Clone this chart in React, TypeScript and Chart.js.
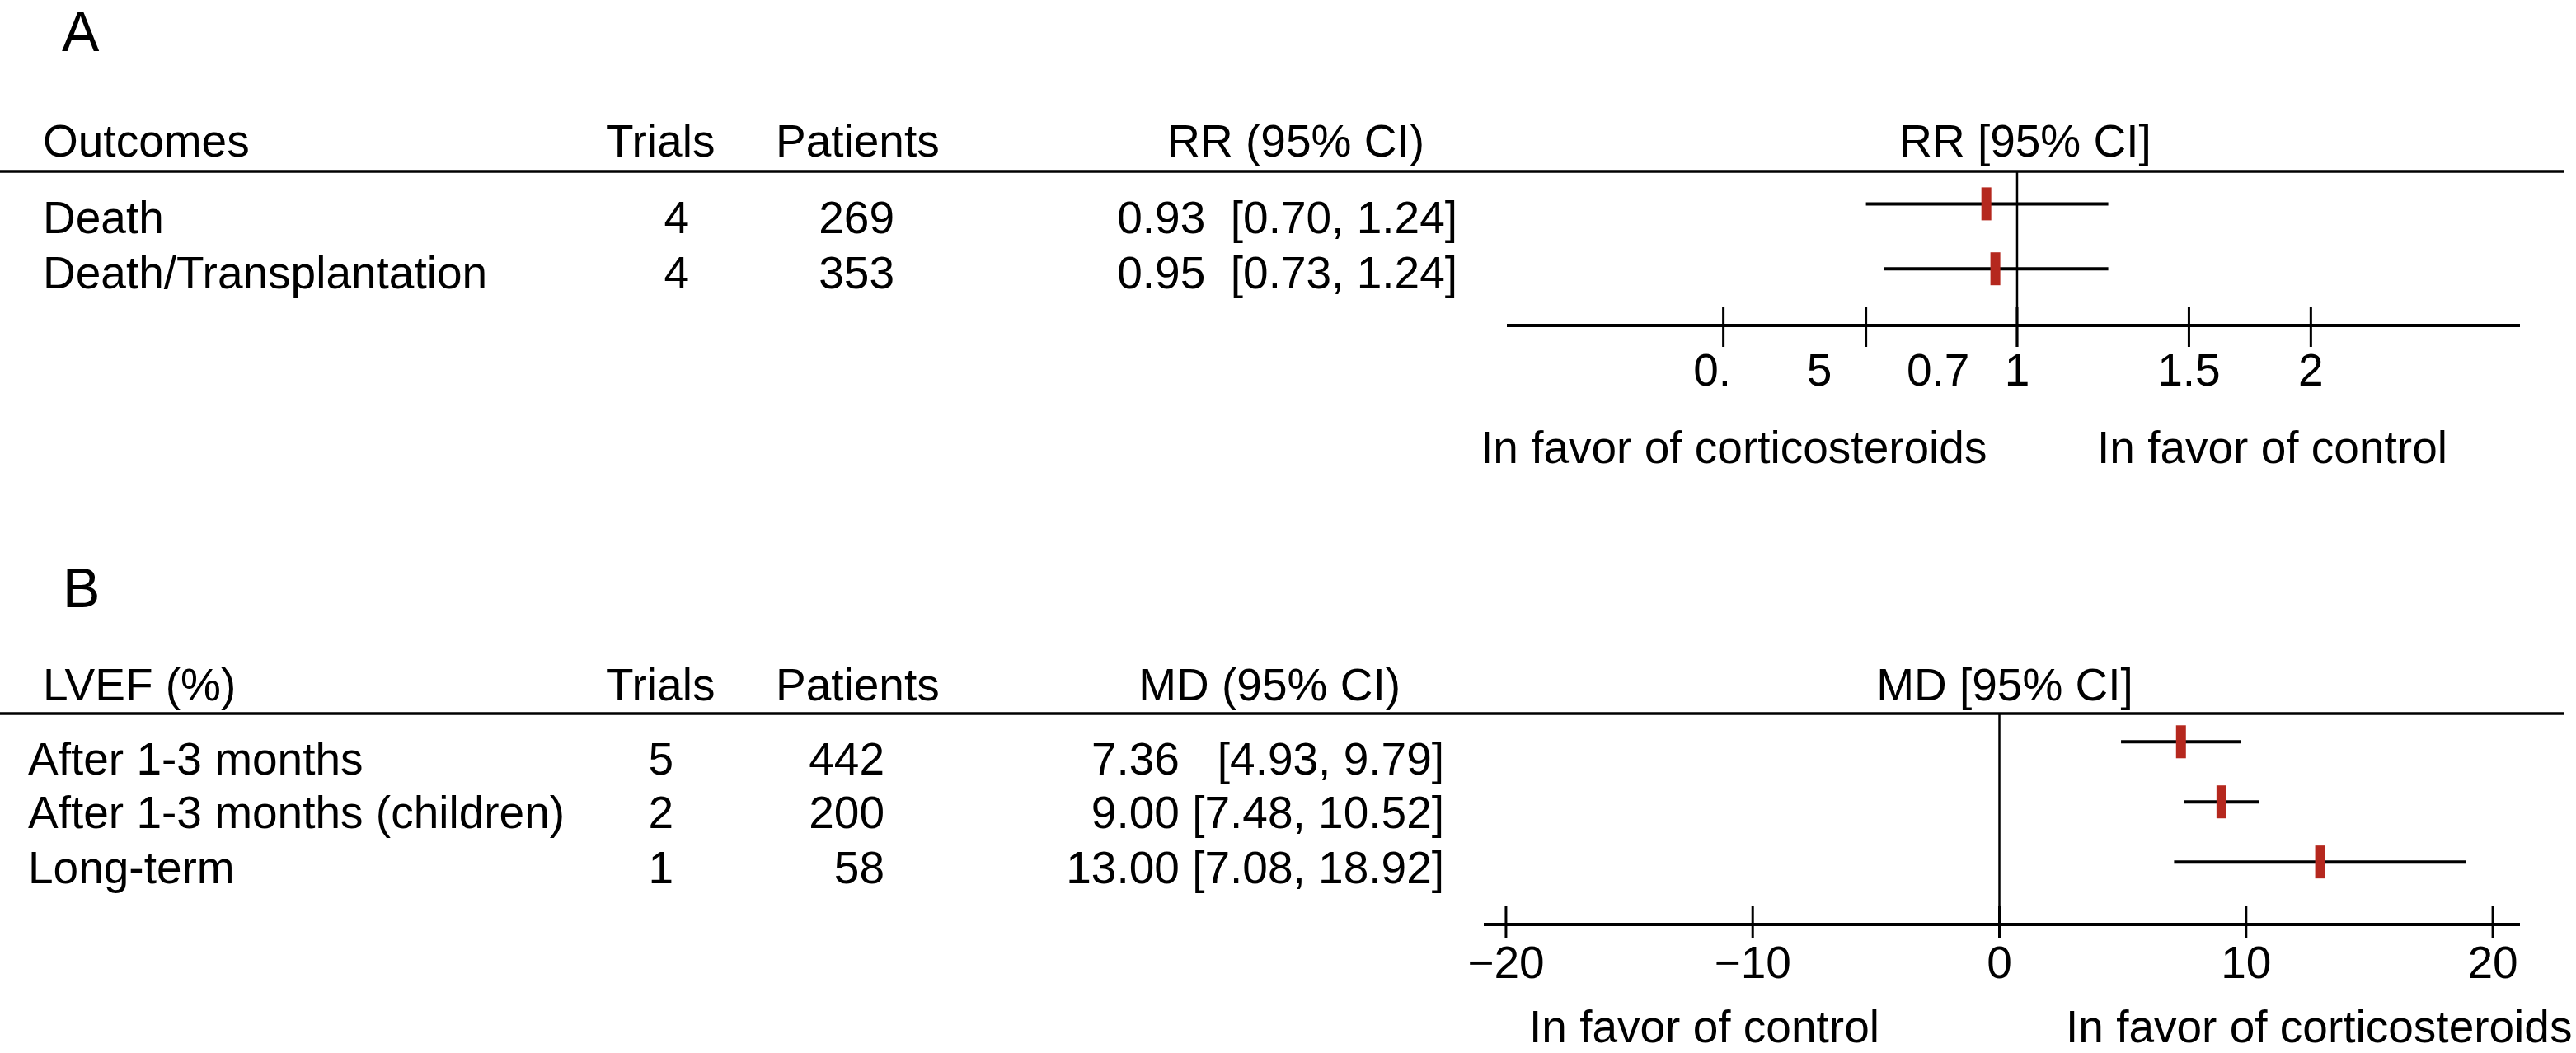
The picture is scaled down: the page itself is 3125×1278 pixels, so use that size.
import React, { useEffect, useRef } from "react";
import { Chart, registerables } from "chart.js";

Chart.register(...registerables);

const FONT = '"Liberation Sans", Arial, Helvetica, sans-serif';

// ---------- Panel A data ----------
const outcomesA = ["Death", "Death/Transplantation"];
const trialsA = [4, 4];
const patientsA = [269, 353];
const rrA = [0.93, 0.95];
const rrLowA = [0.7, 0.73];
const rrHighA = [1.24, 1.24];
const rrTextA = ["0.93  [0.70, 1.24]", "0.95  [0.73, 1.24]"];
const headersA = ["Outcomes", "Trials", "Patients", "RR (95% CI)"];
const forestHeaderA = "RR [95% CI]";
const tickValuesA = [0.5, 0.7, 1, 1.5, 2];
const tickLabelPosA = [0.487, 0.627, 0.83, 1, 1.5, 2];
const tickLabelsA = ["0.", "5", "0.7", "1", "1.5", "2"];
const favorA = ["In favor of corticosteroids", "In favor of control"];
const refValueA = 1;

// ---------- Panel B data ----------
const outcomesB = ["After 1-3 months", "After 1-3 months (children)", "Long-term"];
const trialsB = [5, 2, 1];
const patientsB = [442, 200, 58];
const mdB = [7.36, 9.0, 13.0];
const mdLowB = [4.93, 7.48, 7.08];
const mdHighB = [9.79, 10.52, 18.92];
const mdTextB = ["7.36   [4.93, 9.79]", "9.00 [7.48, 10.52]", "13.00 [7.08, 18.92]"];
const headersB = ["LVEF (%)", "Trials", "Patients", "MD (95% CI)"];
const forestHeaderB = "MD [95% CI]";
const tickValuesB = [-20, -10, 0, 10, 20];
const tickLabelPosB = [-20, -10, 0, 10, 20];
const tickLabelsB = ["\u221220", "\u221210", "0", "10", "20"];
const favorB = ["In favor of control", "In favor of corticosteroids"];
const refValueB = 0;

const W = 3125;
const H = 1278;
const RED = "#b5281e";

type Layout = {
  letter: string;
  letterX: number;
  letterBase: number;
  headerBase: number;
  headerX: number[];
  headerAlign: CanvasTextAlign[];
  headerLineY: number;
  headerLineEnd: number;
  forestHeaderX: number;
  rowBase: number[];
  labelX: number;
  trialsRight: number;
  patientsRight: number;
  valueRight: number;
  tickTop: number;
  tickBottom: number;
  refTop: number;
  refBottom: number;
  tickLabelBase: number;
  favorX: number[];
  favorBase: number;
  area: { left: number; right: number; top: number; bottom: number };
  xType: "logarithmic" | "linear";
  xMin: number;
  xMax: number;
  yMin: number;
  yMax: number;
};

const layoutA: Layout = {
  letter: "A",
  letterX: 75,
  letterBase: 62,
  headerBase: 190,
  headerX: [52, 735, 941, 1728],
  headerAlign: ["left", "left", "left", "right"],
  headerLineY: 208,
  headerLineEnd: 3111,
  forestHeaderX: 2457,
  rowBase: [283, 350],
  labelX: 52,
  trialsRight: 836,
  patientsRight: 1085,
  valueRight: 1768,
  tickTop: 372,
  tickBottom: 421,
  refTop: 208,
  refBottom: 421,
  tickLabelBase: 468,
  favorX: [1796, 2544],
  favorBase: 562,
  area: { left: 1828, right: 3057, top: 208, bottom: 395 },
  xType: "logarithmic",
  xMin: 0.3082,
  xMax: 3.2757,
  yMin: 0.5,
  yMax: 2.873,
};

const layoutB: Layout = {
  letter: "B",
  letterX: 76,
  letterBase: 737,
  headerBase: 850,
  headerX: [52, 735, 941, 1699],
  headerAlign: ["left", "left", "left", "right"],
  headerLineY: 866,
  headerLineEnd: 3111,
  forestHeaderX: 2432,
  rowBase: [940, 1005, 1072],
  labelX: 34,
  trialsRight: 817,
  patientsRight: 1073,
  valueRight: 1752,
  tickTop: 1099,
  tickBottom: 1138,
  refTop: 866,
  refBottom: 1138,
  tickLabelBase: 1187,
  favorX: [1855, 2506],
  favorBase: 1265,
  area: { left: 1800, right: 3057, top: 866, bottom: 1122 },
  xType: "linear",
  xMin: -20.9,
  xMax: 21.1,
  yMin: 0.53,
  yMax: 4.04,
};

type PanelData = {
  labels: string[];
  trials: number[];
  patients: number[];
  est: number[];
  lo: number[];
  hi: number[];
  estText: string[];
  headers: string[];
  forestHeader: string;
  tickValues: number[];
  tickLabelPos: number[];
  tickLabels: string[];
  favor: string[];
  ref: number;
};

const dataA: PanelData = {
  labels: outcomesA,
  trials: trialsA,
  patients: patientsA,
  est: rrA,
  lo: rrLowA,
  hi: rrHighA,
  estText: rrTextA,
  headers: headersA,
  forestHeader: forestHeaderA,
  tickValues: tickValuesA,
  tickLabelPos: tickLabelPosA,
  tickLabels: tickLabelsA,
  favor: favorA,
  ref: refValueA,
};

const dataB: PanelData = {
  labels: outcomesB,
  trials: trialsB,
  patients: patientsB,
  est: mdB,
  lo: mdLowB,
  hi: mdHighB,
  estText: mdTextB,
  headers: headersB,
  forestHeader: forestHeaderB,
  tickValues: tickValuesB,
  tickLabelPos: tickLabelPosB,
  tickLabels: tickLabelsB,
  favor: favorB,
  ref: refValueB,
};

function text(
  ctx: CanvasRenderingContext2D,
  s: string,
  x: number,
  y: number,
  align: CanvasTextAlign,
  size = 55
) {
  ctx.font = `${size}px ${FONT}`;
  ctx.textAlign = align;
  ctx.textBaseline = "alphabetic";
  ctx.fillStyle = "#000";
  ctx.fillText(s, x, y);
}

function line(ctx: CanvasRenderingContext2D, x1: number, y1: number, x2: number, y2: number, w: number) {
  ctx.beginPath();
  ctx.lineWidth = w;
  ctx.strokeStyle = "#000";
  ctx.lineCap = "butt";
  ctx.moveTo(x1, y1);
  ctx.lineTo(x2, y2);
  ctx.stroke();
}

function makePlugin(d: PanelData, L: Layout, paintBg: boolean) {
  return {
    id: "forestDecor" + L.letter,
    beforeDraw(chart: any) {
      if (!paintBg) return;
      const ctx = chart.ctx as CanvasRenderingContext2D;
      ctx.save();
      ctx.fillStyle = "#fff";
      ctx.fillRect(0, 0, chart.width, chart.height);
      ctx.restore();
    },
    beforeDatasetsDraw(chart: any) {
      const ctx = chart.ctx as CanvasRenderingContext2D;
      const xs = chart.scales.x;
      ctx.save();
      const rx = xs.getPixelForValue(d.ref);
      line(ctx, rx, L.refTop, rx, L.refBottom, 2.5);
      ctx.restore();
    },
    afterDraw(chart: any) {
      const ctx = chart.ctx as CanvasRenderingContext2D;
      const xs = chart.scales.x;
      const ca = chart.chartArea;
      ctx.save();
      // panel letter
      text(ctx, L.letter, L.letterX, L.letterBase, "left", 68);
      // headers
      d.headers.forEach((h, i) => text(ctx, h, L.headerX[i], L.headerBase, L.headerAlign[i]));
      text(ctx, d.forestHeader, L.forestHeaderX, L.headerBase, "center");
      // header rule
      line(ctx, 0, L.headerLineY, L.headerLineEnd, L.headerLineY, 3.5);
      // rows
      d.labels.forEach((lab, i) => {
        const yb = L.rowBase[i];
        text(ctx, lab, L.labelX, yb, "left");
        text(ctx, String(d.trials[i]), L.trialsRight, yb, "right");
        text(ctx, String(d.patients[i]), L.patientsRight, yb, "right");
        text(ctx, d.estText[i], L.valueRight, yb, "right");
      });
      // axis line
      line(ctx, ca.left, ca.bottom, ca.right, ca.bottom, 4);
      // tick marks crossing the axis
      d.tickValues.forEach((v) => {
        const px = xs.getPixelForValue(v);
        line(ctx, px, L.tickTop, px, L.tickBottom, 3);
      });
      // tick labels
      d.tickLabels.forEach((t, i) => {
        const px = xs.getPixelForValue(d.tickLabelPos[i]);
        text(ctx, t, px, L.tickLabelBase, "center");
      });
      // favor labels
      d.favor.forEach((f, i) => text(ctx, f, L.favorX[i], L.favorBase, "left"));
      ctx.restore();
    },
  };
}

function buildChart(canvas: HTMLCanvasElement, d: PanelData, L: Layout, paintBg: boolean) {
  const ciSets = d.labels.map((_, i) => ({
    label: "CI " + d.labels[i],
    data: [
      { x: d.lo[i], y: i + 1 },
      { x: d.hi[i], y: i + 1 },
    ],
    showLine: true,
    borderColor: "#000",
    borderWidth: 4,
    pointRadius: 0,
    pointHoverRadius: 0,
    order: 2,
  }));
  const pointSet = {
    label: "Estimate",
    data: d.est.map((v, i) => ({ x: v, y: i + 1 })),
    showLine: false,
    pointStyle: "line",
    rotation: 90,
    pointRadius: 20,
    pointHoverRadius: 20,
    pointBorderWidth: 12,
    pointBorderColor: RED,
    pointBackgroundColor: RED,
    borderColor: RED,
    backgroundColor: RED,
    order: 1,
  };
  return new Chart(canvas, {
    type: "scatter",
    data: { datasets: [pointSet as any, ...ciSets] },
    options: {
      animation: false,
      responsive: false,
      maintainAspectRatio: false,
      events: [],
      layout: {
        padding: {
          left: L.area.left,
          right: W - L.area.right,
          top: L.area.top,
          bottom: H - L.area.bottom,
        },
      },
      plugins: {
        legend: { display: false },
        tooltip: { enabled: false },
        title: { display: false },
      },
      scales: {
        x: {
          type: L.xType,
          min: L.xMin,
          max: L.xMax,
          display: false,
        },
        y: {
          type: "linear",
          reverse: true,
          min: L.yMin,
          max: L.yMax,
          display: false,
        },
      },
    },
    plugins: [makePlugin(d, L, paintBg)],
  } as any);
}

export default function App() {
  const refA = useRef<HTMLCanvasElement>(null);
  const refB = useRef<HTMLCanvasElement>(null);

  useEffect(() => {
    const cb = buildChart(refB.current!, dataB, layoutB, true);
    const ca = buildChart(refA.current!, dataA, layoutA, false);
    return () => {
      ca.destroy();
      cb.destroy();
    };
  }, []);

  const cStyle: React.CSSProperties = {
    position: "absolute",
    left: 0,
    top: 0,
    width: W,
    height: H,
  };

  return (
    <div style={{ position: "absolute", left: 0, top: 0, width: W, height: H, background: "#fff", overflow: "hidden" }}>
      <canvas ref={refB} width={W} height={H} style={cStyle} />
      <canvas ref={refA} width={W} height={H} style={cStyle} />
    </div>
  );
}
